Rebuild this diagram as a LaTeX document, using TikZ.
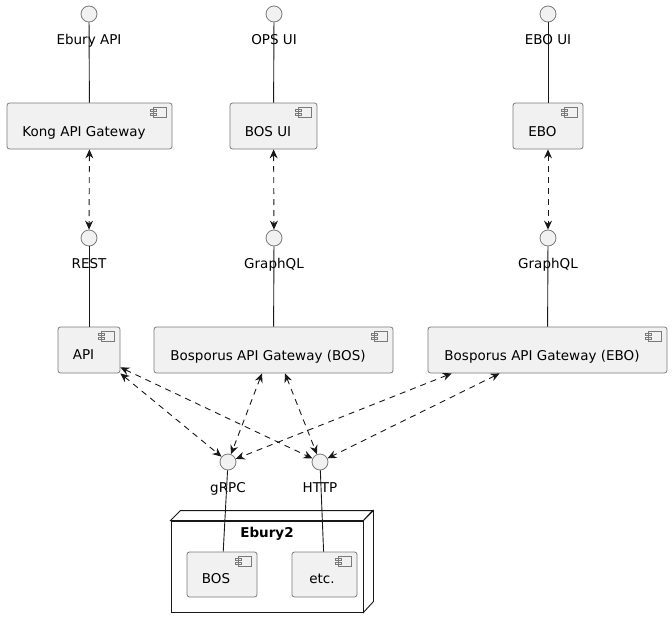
\documentclass[tikz,border=0pt]{standalone}
\usepackage{fontspec}
\setmainfont{DejaVu Sans}
\usetikzlibrary{arrows.meta,calc}
\definecolor{boxfill}{HTML}{F1F1F1}
\definecolor{boxline}{HTML}{7A7A7A}
\definecolor{ink}{HTML}{181818}
\newcommand\compicon[1]{%
  \draw[boxline,fill=boxfill,line width=0.7pt,shift={(#1.north east)}]
    (-19,5) rectangle (-6,15)
    (-22,7) rectangle (-16,9)
    (-22,11) rectangle (-16,13);}
\begin{document}
\begin{tikzpicture}[x=1pt,y=-1pt,
  comp/.style={draw=boxline,fill=boxfill,rounded corners=2.5pt,line width=0.8pt,inner sep=0pt},
  iface/.style={circle,draw=boxline,fill=boxfill,line width=0.8pt,minimum size=16pt,inner sep=0pt},
  txt/.style={font=\fontsize{13.5}{15}\selectfont,text=black,inner sep=0pt,anchor=base},
  solid link/.style={ink,line width=0.9pt},
  dep/.style={ink,line width=0.9pt,dash pattern=on 6pt off 5pt,{Stealth[length=9pt,width=8pt,inset=3pt]}-{Stealth[length=9pt,width=8pt,inset=3pt]}}
]
\useasboundingbox (0,0) rectangle (672,629);

% Ebury2 node (3D box)
\node[draw=ink,fill=white,line width=0.9pt,minimum width=192pt,minimum height=91pt,inner sep=0pt] (eb2) at (267,566.5) {};
\draw[ink,line width=0.9pt,fill=white] (eb2.north west) -- ++(10,-10) -- ++(192,0) -- (eb2.north east) -- cycle;
\draw[ink,line width=0.9pt,fill=white] (eb2.north east) -- ++(10,-10) -- ++(0,91) -- (eb2.south east) -- cycle;
\node[txt,font=\fontsize{13.5}{15}\selectfont\bfseries] (eb2t) at (267,537) {Ebury2};

% interfaces
\node[iface] (ebapi) at (89,14) {};
\node[iface] (opsui) at (274,14) {};
\node[iface] (eboui) at (548,14) {};
\node[iface] (rest) at (89,238) {};
\node[iface] (gql1) at (274,238) {};
\node[iface] (gql2) at (548,238) {};
\node[iface] (grpc) at (228,462) {};
\node[iface] (http) at (320,462) {};

% components
\node[comp,minimum width=165pt,minimum height=46pt] (kong) at (89.5,126) {};
\node[comp,minimum width=87pt,minimum height=46pt] (bosui) at (273.5,126) {};
\node[comp,minimum width=70pt,minimum height=46pt] (ebo) at (548,126) {};
\node[comp,minimum width=62pt,minimum height=46pt] (api) at (89,350) {};
\node[comp,minimum width=239pt,minimum height=46pt] (bosgw) at (273.5,350) {};
\node[comp,minimum width=239pt,minimum height=46pt] (ebogw) at (547.5,350) {};
\node[comp,minimum width=70pt,minimum height=45pt] (bos) at (222,574.5) {};
\node[comp,minimum width=65pt,minimum height=45pt] (etc) at (324.5,574.5) {};
\foreach \n in {kong,bosui,ebo,api,bosgw,ebogw,bos,etc} {\compicon{\n}}

% component labels
\node[txt] (kongt) at (84,136) {Kong API Gateway};
\node[txt] (bosuit) at (268,136) {BOS UI};
\node[txt] (ebot) at (542.5,136) {EBO};
\node[txt] (apit) at (83.5,359) {API};
\node[txt] (bosgwt) at (268,360) {Bosporus API Gateway (BOS)};
\node[txt] (ebogwt) at (542,360) {Bosporus API Gateway (EBO)};
\node[txt] (bost) at (216,583) {BOS};
\node[txt] (etct) at (322,583) {etc.};

% interface labels
\node[txt] (ebapit) at (89,44) {Ebury API};
\node[txt] (opsuit) at (274,44) {OPS UI};
\node[txt] (ebouit) at (548,44) {EBO UI};
\node[txt] (restt) at (89,268) {REST};
\node[txt] (gql1t) at (274,268) {GraphQL};
\node[txt] (gql2t) at (548,268) {GraphQL};
\node[txt] (grpct) at (228,492) {gRPC};
\node[txt] (httpt) at (320,492) {HTTP};

% solid links
\draw[solid link] (ebapi) -- (kong);
\draw[solid link] (opsui) -- (bosui);
\draw[solid link] (eboui) -- (ebo);
\draw[solid link] (rest) -- (api);
\draw[solid link] (gql1) -- (bosgw);
\draw[solid link] (gql2) -- (ebogw);
\draw[solid link] (grpc) -- (bos);
\draw[solid link] (http) -- (etc);

% dependencies
\draw[dep] (kong) -- (rest);
\draw[dep] (bosui) -- (gql1);
\draw[dep] (ebo) -- (gql2);
\draw[dep] (api.south east) -- (grpc);
\draw[dep] ($(api.south east)+(0,-6)$) -- (http);
\draw[dep] ($(bosgw.south)+(-11.5,0)$) -- (grpc);
\draw[dep] ($(bosgw.south)+(11.5,0)$) -- (http);
\draw[dep] ($(ebogw.south west)+(24,0)$) -- (grpc);
\draw[dep] ($(ebogw.south west)+(72,0)$) -- (http);
\end{tikzpicture}
\end{document}
